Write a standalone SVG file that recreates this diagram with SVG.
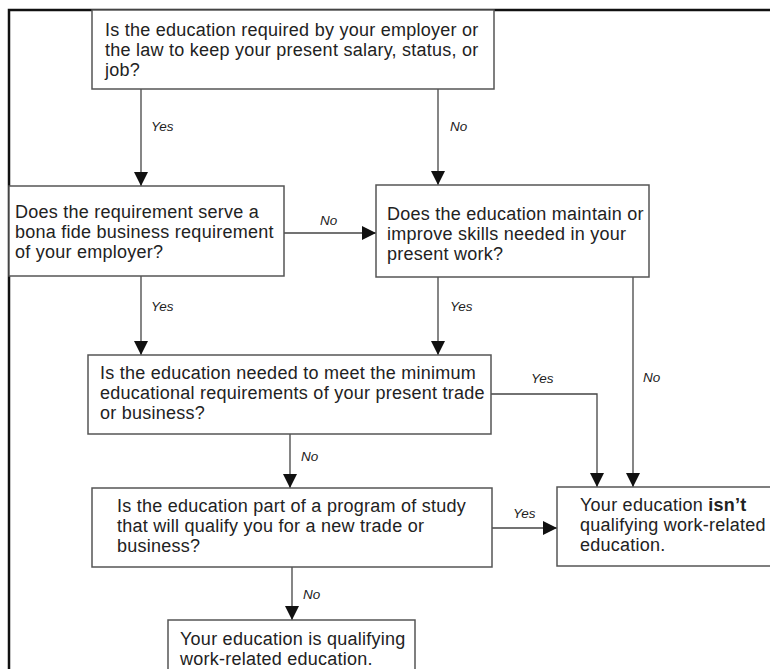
<svg xmlns="http://www.w3.org/2000/svg" width="770" height="669" viewBox="0 0 770 669">
<style>
.box{fill:#fff;stroke:#555;stroke-width:1.5}
.t{font-family:"Liberation Sans",Arial,sans-serif;font-size:18px;letter-spacing:0.25px;fill:#222}
.lbl{font-family:"Liberation Sans",Arial,sans-serif;font-size:13.5px;font-style:italic;fill:#222}
.c{fill:none;stroke:#444;stroke-width:1.3}
.frame{stroke:#111;stroke-width:2.5;fill:none}
</style>
<defs>
<marker id="ah" markerWidth="14" markerHeight="14" refX="14" refY="7" orient="auto" markerUnits="userSpaceOnUse" viewBox="0 0 14 14">
<path d="M0,0 L14,7 L0,14 Z" fill="#111"/>
</marker>
</defs>
<rect width="770" height="669" fill="#fff"/>
<path class="frame" d="M9,669 V10 H770"/>
<g id="connectors">
<line class="c" x1="141" y1="89" x2="141" y2="186" marker-end="url(#ah)"/>
<text class="lbl" x="151" y="131">Yes</text>
<line class="c" x1="438" y1="89" x2="438" y2="185" marker-end="url(#ah)"/>
<text class="lbl" x="450" y="131">No</text>
<line class="c" x1="284" y1="233" x2="376" y2="233" marker-end="url(#ah)"/>
<text class="lbl" x="320" y="225">No</text>
<line class="c" x1="141" y1="276" x2="141" y2="355" marker-end="url(#ah)"/>
<text class="lbl" x="151" y="311">Yes</text>
<line class="c" x1="438" y1="277" x2="438" y2="355" marker-end="url(#ah)"/>
<text class="lbl" x="450" y="311">Yes</text>
<line class="c" x1="633" y1="277" x2="633" y2="487" marker-end="url(#ah)"/>
<text class="lbl" x="643" y="382">No</text>
<polyline class="c" points="491,394 597,394 597,487" marker-end="url(#ah)"/>
<text class="lbl" x="531" y="383">Yes</text>
<line class="c" x1="290" y1="434" x2="290" y2="488" marker-end="url(#ah)"/>
<text class="lbl" x="301" y="461">No</text>
<line class="c" x1="492" y1="528" x2="557" y2="528" marker-end="url(#ah)"/>
<text class="lbl" x="513" y="518">Yes</text>
<line class="c" x1="292" y1="567" x2="292" y2="620" marker-end="url(#ah)"/>
<text class="lbl" x="303" y="599">No</text>
</g>
<g id="q1">
<rect class="box" x="92" y="10" width="402" height="79"/>
<text class="t" x="105" y="36">Is the education required by your employer or</text>
<text class="t" x="105" y="56">the law to keep your present salary, status, or</text>
<text class="t" x="105" y="76">job?</text>
</g>
<g id="q2">
<rect class="box" x="9" y="186" width="275" height="90"/>
<text class="t" x="15" y="218">Does the requirement serve a</text>
<text class="t" x="15" y="238">bona fide business requirement</text>
<text class="t" x="15" y="258">of your employer?</text>
</g>
<g id="q3">
<rect class="box" x="376" y="185" width="273" height="92"/>
<text class="t" x="387" y="220">Does the education maintain or</text>
<text class="t" x="387" y="240">improve skills needed in your</text>
<text class="t" x="387" y="260">present work?</text>
</g>
<g id="q4">
<rect class="box" x="88" y="355" width="403" height="79"/>
<text class="t" x="100" y="379">Is the education needed to meet the minimum</text>
<text class="t" x="100" y="399">educational requirements of your present trade</text>
<text class="t" x="100" y="419">or business?</text>
</g>
<g id="r-no">
<rect class="box" x="557" y="487" width="220" height="79"/>
<text class="t" x="580" y="511">Your education <tspan font-weight="bold">isn’t</tspan></text>
<text class="t" x="580" y="531">qualifying work-related</text>
<text class="t" x="580" y="551">education.</text>
</g>
<g id="q5">
<rect class="box" x="92" y="488" width="400" height="79"/>
<text class="t" x="117" y="512">Is the education part of a program of study</text>
<text class="t" x="117" y="532">that will qualify you for a new trade or</text>
<text class="t" x="117" y="552">business?</text>
</g>
<g id="r-yes">
<rect class="box" x="168" y="620" width="247" height="60"/>
<text class="t" x="180" y="645">Your education is qualifying</text>
<text class="t" x="180" y="665">work-related education.</text>
</g>
</svg>
